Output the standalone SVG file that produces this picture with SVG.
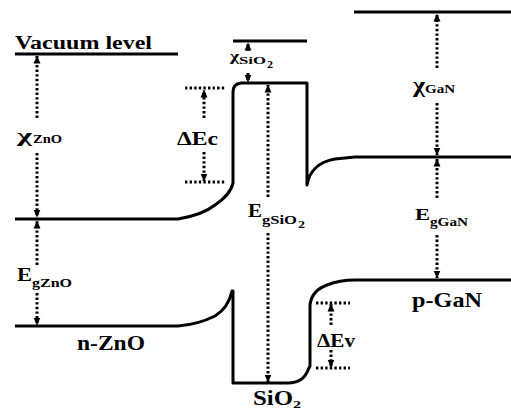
<svg xmlns="http://www.w3.org/2000/svg" width="511" height="410" viewBox="0 0 511 410">
<defs>
<marker id="ah" markerUnits="userSpaceOnUse" markerWidth="8" markerHeight="8" viewBox="0 0 8 8" refX="7.5" refY="4" orient="auto">
<path d="M0,0.5 L8,4 L0,7.5 z" fill="#000"/>
</marker>
<style>
.band{fill:none;stroke:#000;stroke-width:3;stroke-linejoin:round}
.dot{fill:none;stroke:#000;stroke-width:3;stroke-dasharray:2.4 2.2}
.arr{fill:none;stroke:#000;stroke-width:3;stroke-dasharray:2.4 2.2;marker-end:url(#ah)}
text{font-family:"Liberation Serif","Times New Roman",serif;font-weight:bold;fill:#000}
</style>
</defs>
<rect width="511" height="410" fill="#fff"/>
<g id="bands">
<path class="band" d="M15 54 H178"/>
<path class="band" d="M233 41 H307"/>
<path class="band" d="M354 12 H511"/>
<path class="band" d="M15 219 H178 C190 217,205 213,215 205 C225 198,231 192,233 183 V92 Q233 84,241 83 H307 V185 C309 172,318 162,335 159 L355 157 H511"/>
<path class="band" d="M15 326 H178 C192 325,205 321,215 316 C225 310,230 300,232 291 L233 291 V383 H288 C298 383,305 378,308 370 L310 366 V305 C311 296,316 289,327 285 C337 281,345 280,355 280 H511"/>
</g>
<g id="connectors">
<path class="arr" d="M37 118 V56"/>
<path class="arr" d="M37 153 V217"/>
<path class="arr" d="M37 265 V221"/>
<path class="arr" d="M37 293 V325"/>
<path class="dot" d="M185 88 H226"/>
<path class="dot" d="M185 182 H226"/>
<path class="arr" d="M204 118 V90"/>
<path class="arr" d="M204 152 V181"/>
<path class="arr" d="M248 51 V43"/>
<path class="arr" d="M248 73 V82"/>
<path class="arr" d="M268 197 V85"/>
<path class="arr" d="M268 233 V382"/>
<path class="arr" d="M437 68 V14"/>
<path class="arr" d="M437 103 V155"/>
<path class="arr" d="M437 198 V159"/>
<path class="arr" d="M437 235 V278"/>
<path class="dot" d="M316 303 H350"/>
<path class="dot" d="M316 368 H350"/>
<path class="arr" d="M331 325 V304"/>
<path class="arr" d="M331 350 V367"/>
</g>
<g id="labels">
<text x="15" y="49" font-size="18" textLength="137" lengthAdjust="spacingAndGlyphs">Vacuum level</text>
<text x="17" y="142" font-size="19" textLength="15" lengthAdjust="spacingAndGlyphs">χ</text>
<text x="33" y="143" font-size="12" textLength="29" lengthAdjust="spacingAndGlyphs">ZnO</text>
<text x="177" y="145" font-size="18" textLength="41" lengthAdjust="spacingAndGlyphs">ΔEc</text>
<text x="230" y="61" font-size="15" textLength="9" lengthAdjust="spacingAndGlyphs">χ</text>
<text x="239" y="64" font-size="11" textLength="27" lengthAdjust="spacingAndGlyphs">SiO</text>
<text x="267" y="68" font-size="10" textLength="6" lengthAdjust="spacingAndGlyphs">2</text>
<text x="248" y="217" font-size="18" textLength="14" lengthAdjust="spacingAndGlyphs">E</text>
<text x="262" y="224" font-size="12" textLength="35" lengthAdjust="spacingAndGlyphs">gSiO</text>
<text x="298" y="228" font-size="10" textLength="7" lengthAdjust="spacingAndGlyphs">2</text>
<text x="413" y="92" font-size="20" textLength="12" lengthAdjust="spacingAndGlyphs">χ</text>
<text x="425" y="93" font-size="12" textLength="30" lengthAdjust="spacingAndGlyphs">GaN</text>
<text x="415" y="220" font-size="17" textLength="15" lengthAdjust="spacingAndGlyphs">E</text>
<text x="430" y="226" font-size="12" textLength="38" lengthAdjust="spacingAndGlyphs">gGaN</text>
<text x="17" y="281" font-size="18" textLength="15" lengthAdjust="spacingAndGlyphs">E</text>
<text x="32" y="287" font-size="12" textLength="40" lengthAdjust="spacingAndGlyphs">gZnO</text>
<text x="77" y="350" font-size="20" textLength="68" lengthAdjust="spacingAndGlyphs">n-ZnO</text>
<text x="412" y="307" font-size="21" textLength="70" lengthAdjust="spacingAndGlyphs">p-GaN</text>
<text x="317" y="347" font-size="18" textLength="38" lengthAdjust="spacingAndGlyphs">ΔEv</text>
<text x="253" y="405" font-size="20" textLength="40" lengthAdjust="spacingAndGlyphs">SiO</text>
<text x="293" y="408" font-size="11" textLength="8" lengthAdjust="spacingAndGlyphs">2</text>
</g>
</svg>
